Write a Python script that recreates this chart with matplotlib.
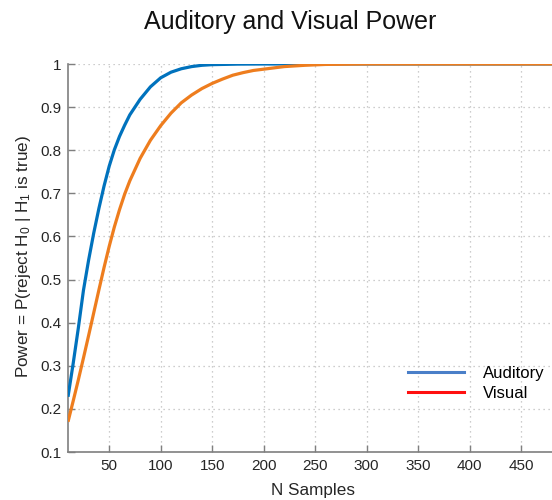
import matplotlib
matplotlib.use("Agg")
import matplotlib.pyplot as plt
from matplotlib.lines import Line2D

plt.rcParams['font.family'] = ['Liberation Sans', 'DejaVu Sans']
plt.rcParams['mathtext.fontset'] = 'custom'
plt.rcParams['mathtext.rm'] = 'Liberation Sans'
plt.rcParams['mathtext.it'] = 'Liberation Sans:italic'

title = "Auditory and Visual Power"
xlabel = "N Samples"
ylabel = r"Power = P(reject H$_0$ | H$_1$ is true)"
series_names = ["Auditory", "Visual"]

n_aud = [10, 15, 20, 25, 30, 35, 40, 45, 50, 55, 60, 65, 70, 80, 90, 100, 110,
         120, 130, 140, 150, 175, 200, 300, 500]
p_aud = [0.228, 0.305, 0.387, 0.475, 0.545, 0.608, 0.665, 0.717, 0.763, 0.801,
         0.832, 0.858, 0.882, 0.918, 0.947, 0.968, 0.981, 0.989, 0.994, 0.997,
         0.9985, 0.9997, 1.0, 1.0, 1.0]

n_vis = [10, 15, 20, 25, 30, 35, 40, 45, 50, 55, 60, 65, 70, 80, 90, 100, 110,
         120, 130, 140, 150, 160, 170, 180, 190, 200, 220, 240, 260, 300, 500]
p_vis = [0.170, 0.218, 0.267, 0.318, 0.370, 0.423, 0.476, 0.528, 0.577, 0.622,
         0.662, 0.698, 0.729, 0.781, 0.823, 0.857, 0.886, 0.910, 0.928, 0.943,
         0.955, 0.965, 0.974, 0.980, 0.985, 0.988, 0.994, 0.997, 0.999, 1.0, 1.0]

xticks = [50, 100, 150, 200, 250, 300, 350, 400, 450]
yticks = [0.1, 0.2, 0.3, 0.4, 0.5, 0.6, 0.7, 0.8, 0.9, 1]
ytick_labels = ["0.1", "0.2", "0.3", "0.4", "0.5", "0.6", "0.7", "0.8", "0.9", "1"]

W, H = 552, 500
fig = plt.figure(figsize=(W / 100, H / 100), dpi=100)
# axes extend beyond the right edge of the figure (reference is cropped)
x0_px, x1_px = 68, 68 + 490 * 1.03
y_top_px, y_bot_px = 64, 452
ax = fig.add_axes([x0_px / W, 1 - y_bot_px / H, (x1_px - x0_px) / W, (y_bot_px - y_top_px) / H])

blue = "#0072BD"
orange = "#EE7D1E"
ax.plot(n_aud, p_aud, color=blue, lw=2.3, solid_capstyle='butt', zorder=3)
ax.plot(n_vis, p_vis, color=orange, lw=2.3, solid_capstyle='butt', zorder=3)

ax.set_xlim(10, 500)
ax.set_ylim(0.1, 1)
ax.set_xticks(xticks)
ax.set_yticks(yticks)
ax.set_yticklabels(ytick_labels)

for s in ['top', 'right']:
    ax.spines[s].set_visible(False)
for s in ['left', 'bottom']:
    ax.spines[s].set_color('#7f7f7f')
    ax.spines[s].set_linewidth(1.2)
ax.tick_params(direction='in', length=5, width=1, color='#7f7f7f',
               labelsize=11, labelcolor='#262626', pad=5)
ax.grid(True, linestyle=(0, (1, 3)), color='#bdbdbd', lw=0.9)
ax.set_axisbelow(True)

fig.text(290 / W, 1 - 22 / H, title, ha='center', va='center', fontsize=18, color='#111111')
fig.text(313 / W, 1 - 490 / H, xlabel, ha='center', va='center', fontsize=12.3, color='#262626')
fig.text(24 / W, 1 - 256 / H, ylabel, ha='center', va='center', rotation=90,
         fontsize=12.3, color='#262626')

handles = [Line2D([], [], color='#4A7FC8', lw=2.2), Line2D([], [], color='#FF1010', lw=2.2)]
fig.legend(handles, series_names, loc='upper left',
           bbox_to_anchor=(408 / W, 1 - 366 / H), frameon=False, fontsize=12,
           handlelength=3.35, handletextpad=1.15, labelspacing=0.3, borderpad=0,
           borderaxespad=0)

fig.savefig("out.png", dpi=100, facecolor='white')
